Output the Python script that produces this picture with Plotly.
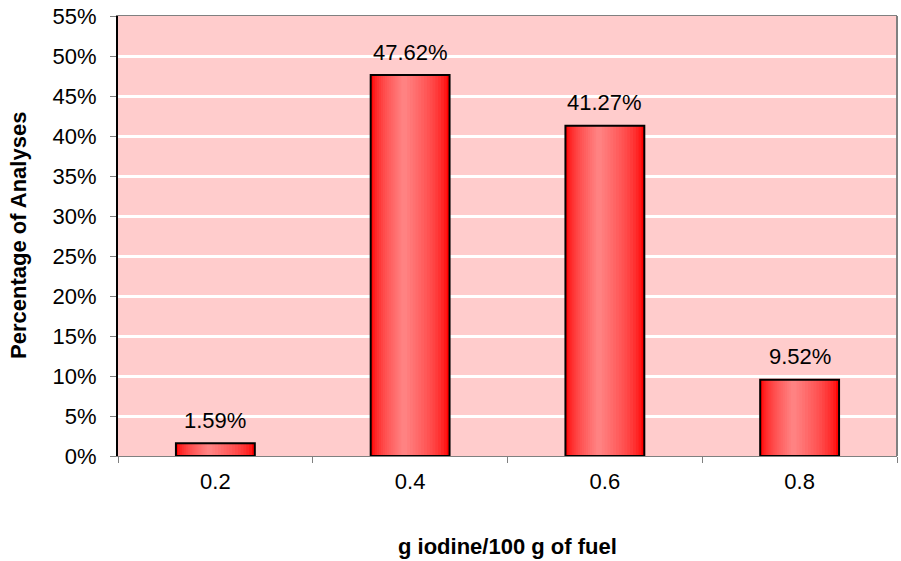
import plotly.graph_objects as go

categories = ["0.2", "0.4", "0.6", "0.8"]
percentages = [1.59, 47.62, 41.27, 9.52]
labels = ["1.59%", "47.62%", "41.27%", "9.52%"]
y_ticks = list(range(0, 56, 5))
y_ticklabels = [f"{v}%" for v in y_ticks]

FONT = "Liberation Sans, Arial"
fig = go.Figure()

# layered bars to imitate horizontal gradient (red edges, lighter slightly left of centre)
n_layers = 16
full_w = 0.405
for i in range(n_layers):
    t = i / (n_layers - 1)
    w = full_w * (1 - t) + 0.03 * t
    centre_shift = -0.03 * t
    g = int(0 + 130 * (t ** 0.6))
    color = f"rgb(255,{g},{g})"
    fig.add_trace(go.Bar(
        x=categories, y=percentages, width=w, offset=centre_shift - w / 2,
        marker=dict(color=color, line=dict(width=0)),
        hoverinfo="skip", showlegend=False,
    ))
# outline on top
fig.add_trace(go.Bar(
    x=categories, y=percentages, width=full_w,
    marker=dict(color="rgba(0,0,0,0)", line=dict(color="black", width=2)),
    showlegend=False, hoverinfo="skip",
))

for idx, (v, lab) in enumerate(zip(percentages, labels)):
    fig.add_annotation(x=idx, y=v, text=lab, showarrow=False, yanchor="middle",
                       yshift=23, font=dict(family=FONT, size=22, color="black"))

fig.update_layout(
    barmode="overlay",
    width=901, height=561,
    margin=dict(l=118, r=4, t=16, b=105),
    paper_bgcolor="white",
    plot_bgcolor="#FFCCCC",
    font=dict(family=FONT, size=22, color="black"),
    xaxis=dict(
        type="category", tickson="boundaries", ticks="outside", ticklen=6,
        tickcolor="#808080", showline=True, linecolor="#808080", linewidth=1,
        mirror=True, showgrid=False, automargin=False,
        tickfont=dict(family=FONT, size=22), ticklabelstandoff=6,
    ),
    yaxis=dict(
        range=[0, 55], tickvals=y_ticks, ticktext=y_ticklabels,
        ticks="outside", ticklen=6, tickcolor="#808080",
        showline=True, linecolor="black", linewidth=2,
        showgrid=True, gridcolor="white", gridwidth=3,
        zeroline=False, automargin=False, tickfont=dict(family=FONT, size=22),
        ticklabelstandoff=9,
    ),
)
fig.add_annotation(text="<b>g iodine/100 g of fuel</b>", xref="paper", yref="paper",
                   x=0.5, y=0, yshift=-90, xanchor="center", yanchor="middle",
                   showarrow=False, font=dict(family=FONT, size=22))
fig.add_annotation(text="<b>Percentage of Analyses</b>", xref="paper", yref="paper",
                   x=0, xshift=-100, y=0.5, textangle=-90, xanchor="center",
                   yanchor="middle", showarrow=False, font=dict(family=FONT, size=22))
fig.add_shape(type="line", xref="paper", yref="paper", x0=1, x1=1, y0=0, y1=1,
              line=dict(color="#808080", width=2))

fig.write_html("out.html", config={"displayModeBar": False},
               post_script="document.body.style.margin='0';document.body.style.overflow='hidden';")
